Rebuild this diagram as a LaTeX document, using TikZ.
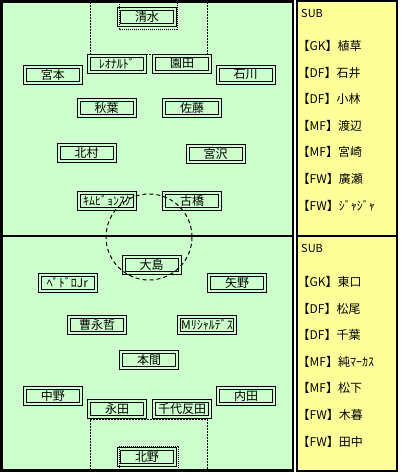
\documentclass[tikz,border=0pt]{standalone}
\usepackage{fontspec}
\setmainfont{Noto Sans CJK JP}
\usepackage{tikz}
\definecolor{pitchGreen}{RGB}{204,255,204}
\definecolor{benchYellow}{RGB}{255,255,153}

\begin{document}
\begin{tikzpicture}[
  x=1pt, y=-1pt,
  player/.style={
    draw, line width=1pt,
    double=pitchGreen, double distance=2pt,
    minimum width=56pt, minimum height=16pt, inner sep=0pt,
    font=\fontsize{12}{12}\selectfont
  },
  subname/.style={
    anchor=west, inner sep=0pt,
    font=\fontsize{12}{12}\selectfont
  },
  area line/.style={line width=1pt, dash pattern=on 2pt off 1pt},
  goal line/.style={line width=1pt, dash pattern=on 1pt off 1pt},
  circle line/.style={line width=1pt, dash pattern=on 4pt off 3pt}
]
\useasboundingbox (0,0) rectangle (400,475);
\draw[line width=2.5pt, fill=pitchGreen] (1.25,1.25) rectangle (293,470.5);
\draw[line width=2pt] (1.25,236) -- (293,236);
\draw[line width=2pt, fill=benchYellow] (297,1) rectangle (397,471);
\draw[line width=2pt] (297,236) -- (397,236);

\node[player] (shimizu)     at (147,17)    {清水};
\node[player] (leonardo)    at (117,63.5)  {ﾚｵﾅﾙﾄﾞ};
\node[player] (sonoda)      at (182,63.5)  {園田};
\node[player] (miyamoto)    at (53,74.5)   {宮本};
\node[player] (ishikawa)    at (245.5,74.5){石川};
\node[player] (akiba)       at (106.5,108) {秋葉};
\node[player] (sato)        at (192,108)   {佐藤};
\node[player] (kitamura)    at (86.5,152.5){北村};
\node[player] (miyazawa)    at (215.5,153.5){宮沢};
\node[player] (kimbyungsuk) at (107,200.5) {ｷﾑﾋﾞｮﾝｽｸ};
\node[player] (furuhashi)   at (192,200.5) {古橋};

\node[player] (oshima)      at (151.5,264.5){大島};
\node[player] (pedro)       at (67.5,282.5){ﾍﾟﾄﾞﾛJr};
\node[player] (yano)        at (237,282.5) {矢野};
\node[player] (sotetsu)     at (97,325)    {曹永哲};
\node[player] (richardes)   at (207,325)   {Mﾘｼｬﾙﾃﾞｽ};
\node[player] (homma)       at (149,360)   {本間};
\node[player] (nakano)      at (53,396)    {中野};
\node[player] (uchida)      at (246,396)   {内田};
\node[player] (nagata)      at (117,409)   {永田};
\node[player] (chiyohanda)  at (182,409)   {千代反田};
\node[player] (kitano)      at (147,457)   {北野};

\draw[area line] (90,2) |- (207,54) -- (207,2);
\draw[goal line] (119,2) |- (177,29) -- (177,2);
\draw[area line] (90,470) |- (207,419) -- (207,470);
\draw[goal line] (119,470) |- (178,446) -- (178,470);
\draw[circle line] (149,237) circle[radius=43];

\node[subname, font=\fontsize{11}{11}\selectfont] (topSub) at (301,13) {SUB};
\foreach \who [count=\i] in {【GK】植草,【DF】石井,【DF】小林,【MF】渡辺,【MF】宮崎,【FW】廣瀬,【FW】ｼﾞｬｼﾞｬ}
  \node[subname] (topSub\i) at (297.5,{46+26.6*(\i-1)}) {\who};
\node[subname, font=\fontsize{11}{11}\selectfont] (bottomSub) at (301,248) {SUB};
\foreach \who [count=\i] in {【GK】東口,【DF】松尾,【DF】千葉,【MF】純ﾏｰｶｽ,【MF】松下,【FW】木暮,【FW】田中}
  \node[subname] (bottomSub\i) at (297.5,{282+26.6*(\i-1)}) {\who};
\end{tikzpicture}
\end{document}
